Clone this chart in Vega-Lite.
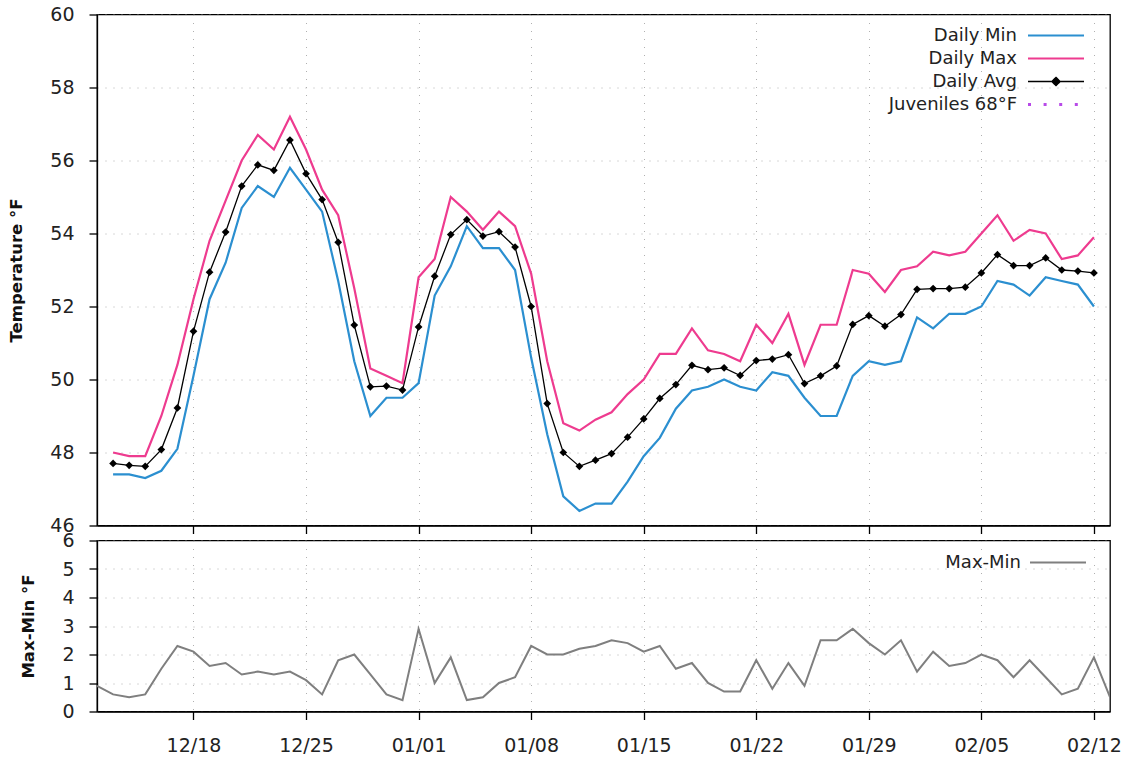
{
  "$schema": "https://vega.github.io/schema/vega-lite/v6.json",
  "padding": {"left": 8, "top": 4.5, "right": 0, "bottom": 0},
  "bounds": "flush",
  "spacing": 15,
  "config": {
    "font": "DejaVu Sans",
    "view": {"stroke": "#000", "strokeWidth": 1.3},
    "axis": {
      "domainColor": "#000", "domainWidth": 1.3,
      "tickColor": "#000", "tickSize": 8, "tickWidth": 1.3,
      "labelFont": "DejaVu Sans", "labelFontSize": 19, "labelColor": "#222",
      "titleFont": "DejaVu Sans", "titleFontSize": 16.5, "titleFontWeight": "bold", "titleColor": "#111",
      "gridColor": "#b0b0b0", "gridDash": [1, 7], "gridWidth": 1
    },
    "axisY": {"labelPadding": 15, "titlePadding": 25},
    "axisX": {"labelPadding": 17}
  },
  "resolve": {"scale": {"color": "independent"}, "legend": {"color": "independent"}},
  "datasets": {
    "thresholds": [{"series": "Juveniles 68°F", "value": 68}],
    "daily": [
      {"date": "2022-12-12", "range": 0.9},
      {"date": "2022-12-13", "Daily Min": 47.4, "Daily Max": 48.0, "Daily Avg": 47.70, "range": 0.6},
      {"date": "2022-12-14", "Daily Min": 47.4, "Daily Max": 47.9, "Daily Avg": 47.65, "range": 0.5},
      {"date": "2022-12-15", "Daily Min": 47.3, "Daily Max": 47.9, "Daily Avg": 47.62, "range": 0.6},
      {"date": "2022-12-16", "Daily Min": 47.5, "Daily Max": 49.0, "Daily Avg": 48.08, "range": 1.5},
      {"date": "2022-12-17", "Daily Min": 48.1, "Daily Max": 50.4, "Daily Avg": 49.22, "range": 2.3},
      {"date": "2022-12-18", "Daily Min": 50.1, "Daily Max": 52.2, "Daily Avg": 51.32, "range": 2.1},
      {"date": "2022-12-19", "Daily Min": 52.2, "Daily Max": 53.8, "Daily Avg": 52.94, "range": 1.6},
      {"date": "2022-12-20", "Daily Min": 53.2, "Daily Max": 54.9, "Daily Avg": 54.04, "range": 1.7},
      {"date": "2022-12-21", "Daily Min": 54.7, "Daily Max": 56.0, "Daily Avg": 55.30, "range": 1.3},
      {"date": "2022-12-22", "Daily Min": 55.3, "Daily Max": 56.7, "Daily Avg": 55.88, "range": 1.4},
      {"date": "2022-12-23", "Daily Min": 55.0, "Daily Max": 56.3, "Daily Avg": 55.73, "range": 1.3},
      {"date": "2022-12-24", "Daily Min": 55.8, "Daily Max": 57.2, "Daily Avg": 56.56, "range": 1.4},
      {"date": "2022-12-25", "Daily Min": 55.2, "Daily Max": 56.3, "Daily Avg": 55.64, "range": 1.1},
      {"date": "2022-12-26", "Daily Min": 54.6, "Daily Max": 55.2, "Daily Avg": 54.93, "range": 0.6},
      {"date": "2022-12-27", "Daily Min": 52.7, "Daily Max": 54.5, "Daily Avg": 53.76, "range": 1.8},
      {"date": "2022-12-28", "Daily Min": 50.5, "Daily Max": 52.5, "Daily Avg": 51.49, "range": 2.0},
      {"date": "2022-12-29", "Daily Min": 49.0, "Daily Max": 50.3, "Daily Avg": 49.80, "range": 1.3},
      {"date": "2022-12-30", "Daily Min": 49.5, "Daily Max": 50.1, "Daily Avg": 49.82, "range": 0.6},
      {"date": "2022-12-31", "Daily Min": 49.5, "Daily Max": 49.9, "Daily Avg": 49.71, "range": 0.4},
      {"date": "2023-01-01", "Daily Min": 49.9, "Daily Max": 52.8, "Daily Avg": 51.44, "range": 2.9},
      {"date": "2023-01-02", "Daily Min": 52.3, "Daily Max": 53.3, "Daily Avg": 52.83, "range": 1.0},
      {"date": "2023-01-03", "Daily Min": 53.1, "Daily Max": 55.0, "Daily Avg": 53.97, "range": 1.9},
      {"date": "2023-01-04", "Daily Min": 54.2, "Daily Max": 54.6, "Daily Avg": 54.38, "range": 0.4},
      {"date": "2023-01-05", "Daily Min": 53.6, "Daily Max": 54.1, "Daily Avg": 53.93, "range": 0.5},
      {"date": "2023-01-06", "Daily Min": 53.6, "Daily Max": 54.6, "Daily Avg": 54.05, "range": 1.0},
      {"date": "2023-01-07", "Daily Min": 53.0, "Daily Max": 54.2, "Daily Avg": 53.63, "range": 1.2},
      {"date": "2023-01-08", "Daily Min": 50.6, "Daily Max": 52.9, "Daily Avg": 52.00, "range": 2.3},
      {"date": "2023-01-09", "Daily Min": 48.5, "Daily Max": 50.5, "Daily Avg": 49.34, "range": 2.0},
      {"date": "2023-01-10", "Daily Min": 46.8, "Daily Max": 48.8, "Daily Avg": 48.00, "range": 2.0},
      {"date": "2023-01-11", "Daily Min": 46.4, "Daily Max": 48.6, "Daily Avg": 47.62, "range": 2.2},
      {"date": "2023-01-12", "Daily Min": 46.6, "Daily Max": 48.9, "Daily Avg": 47.79, "range": 2.3},
      {"date": "2023-01-13", "Daily Min": 46.6, "Daily Max": 49.1, "Daily Avg": 47.97, "range": 2.5},
      {"date": "2023-01-14", "Daily Min": 47.2, "Daily Max": 49.6, "Daily Avg": 48.42, "range": 2.4},
      {"date": "2023-01-15", "Daily Min": 47.9, "Daily Max": 50.0, "Daily Avg": 48.92, "range": 2.1},
      {"date": "2023-01-16", "Daily Min": 48.4, "Daily Max": 50.7, "Daily Avg": 49.48, "range": 2.3},
      {"date": "2023-01-17", "Daily Min": 49.2, "Daily Max": 50.7, "Daily Avg": 49.86, "range": 1.5},
      {"date": "2023-01-18", "Daily Min": 49.7, "Daily Max": 51.4, "Daily Avg": 50.39, "range": 1.7},
      {"date": "2023-01-19", "Daily Min": 49.8, "Daily Max": 50.8, "Daily Avg": 50.27, "range": 1.0},
      {"date": "2023-01-20", "Daily Min": 50.0, "Daily Max": 50.7, "Daily Avg": 50.32, "range": 0.7},
      {"date": "2023-01-21", "Daily Min": 49.8, "Daily Max": 50.5, "Daily Avg": 50.11, "range": 0.7},
      {"date": "2023-01-22", "Daily Min": 49.7, "Daily Max": 51.5, "Daily Avg": 50.52, "range": 1.8},
      {"date": "2023-01-23", "Daily Min": 50.2, "Daily Max": 51.0, "Daily Avg": 50.56, "range": 0.8},
      {"date": "2023-01-24", "Daily Min": 50.1, "Daily Max": 51.8, "Daily Avg": 50.68, "range": 1.7},
      {"date": "2023-01-25", "Daily Min": 49.5, "Daily Max": 50.4, "Daily Avg": 49.89, "range": 0.9},
      {"date": "2023-01-26", "Daily Min": 49.0, "Daily Max": 51.5, "Daily Avg": 50.10, "range": 2.5},
      {"date": "2023-01-27", "Daily Min": 49.0, "Daily Max": 51.5, "Daily Avg": 50.37, "range": 2.5},
      {"date": "2023-01-28", "Daily Min": 50.1, "Daily Max": 53.0, "Daily Avg": 51.51, "range": 2.9},
      {"date": "2023-01-29", "Daily Min": 50.5, "Daily Max": 52.9, "Daily Avg": 51.75, "range": 2.4},
      {"date": "2023-01-30", "Daily Min": 50.4, "Daily Max": 52.4, "Daily Avg": 51.46, "range": 2.0},
      {"date": "2023-01-31", "Daily Min": 50.5, "Daily Max": 53.0, "Daily Avg": 51.78, "range": 2.5},
      {"date": "2023-02-01", "Daily Min": 51.7, "Daily Max": 53.1, "Daily Avg": 52.47, "range": 1.4},
      {"date": "2023-02-02", "Daily Min": 51.4, "Daily Max": 53.5, "Daily Avg": 52.49, "range": 2.1},
      {"date": "2023-02-03", "Daily Min": 51.8, "Daily Max": 53.4, "Daily Avg": 52.49, "range": 1.6},
      {"date": "2023-02-04", "Daily Min": 51.8, "Daily Max": 53.5, "Daily Avg": 52.53, "range": 1.7},
      {"date": "2023-02-05", "Daily Min": 52.0, "Daily Max": 54.0, "Daily Avg": 52.92, "range": 2.0},
      {"date": "2023-02-06", "Daily Min": 52.7, "Daily Max": 54.5, "Daily Avg": 53.42, "range": 1.8},
      {"date": "2023-02-07", "Daily Min": 52.6, "Daily Max": 53.8, "Daily Avg": 53.12, "range": 1.2},
      {"date": "2023-02-08", "Daily Min": 52.3, "Daily Max": 54.1, "Daily Avg": 53.12, "range": 1.8},
      {"date": "2023-02-09", "Daily Min": 52.8, "Daily Max": 54.0, "Daily Avg": 53.33, "range": 1.2},
      {"date": "2023-02-10", "Daily Min": 52.7, "Daily Max": 53.3, "Daily Avg": 53.00, "range": 0.6},
      {"date": "2023-02-11", "Daily Min": 52.6, "Daily Max": 53.4, "Daily Avg": 52.97, "range": 0.8},
      {"date": "2023-02-12", "Daily Min": 52.0, "Daily Max": 53.9, "Daily Avg": 52.92, "range": 1.9},
      {"date": "2023-02-13", "range": 0.5}
    ]
  },
  "vconcat": [
    {
      "width": 1013,
      "height": 511,
      "layer": [
        {
          "data": {"name": "daily"},
          "transform": [
            {"fold": ["Daily Min", "Daily Max", "Daily Avg"], "as": ["series", "value"]},
            {"filter": "isValid(datum.value)"}
          ],
          "mark": {"type": "line", "clip": true},
          "encoding": {
            "x": {
              "field": "date", "type": "temporal",
              "scale": {"type": "utc", "domain": [{"year": 2022, "month": 12, "date": 12, "utc": true}, {"year": 2023, "month": 2, "date": 13, "utc": true}]},
              "axis": {
                "title": null, "labels": false, "grid": true,
                "values": [
                  {"year": 2022, "month": 12, "date": 18, "utc": true},
                  {"year": 2022, "month": 12, "date": 25, "utc": true},
                  {"year": 2023, "month": 1, "date": 1, "utc": true},
                  {"year": 2023, "month": 1, "date": 8, "utc": true},
                  {"year": 2023, "month": 1, "date": 15, "utc": true},
                  {"year": 2023, "month": 1, "date": 22, "utc": true},
                  {"year": 2023, "month": 1, "date": 29, "utc": true},
                  {"year": 2023, "month": 2, "date": 5, "utc": true},
                  {"year": 2023, "month": 2, "date": 12, "utc": true}
                ]
              }
            },
            "y": {
              "field": "value", "type": "quantitative", "title": "Temperature °F",
              "scale": {"domain": [46, 60], "nice": false, "zero": false},
              "axis": {"values": [46, 48, 50, 52, 54, 56, 58, 60], "grid": true}
            },
            "color": {
              "field": "series", "type": "nominal",
              "scale": {
                "domain": ["Daily Min", "Daily Max", "Daily Avg", "Juveniles 68°F"],
                "range": ["#2b8fd0", "#ee3b8f", "#000000", "#b84ae8"]
              },
              "legend": {
                "orient": "none", "legendX": 950, "legendY": 12, "title": null, "padding": 0,
                "labelFont": "DejaVu Sans", "labelFontSize": 18, "labelColor": "#222",
                "labelAlign": "right", "labelOffset": -48,
                "symbolSize": 400, "rowPadding": 5, "symbolStrokeWidth": 2,
                "symbolType": "M-2.8,0L2.8,0",
                "encode": {
                  "symbols": {
                    "update": {
                      "shape": {"signal": "datum.value === 'Daily Avg' ? 'M-2.8,0L2.8,0M0,-0.42L0.42,0L0,0.42L-0.42,0Z' : 'M-2.8,0L2.8,0'"},
                      "fill": {"signal": "datum.value === 'Daily Avg' ? '#000' : 'transparent'"},
                      "strokeDash": {"signal": "datum.value === 'Juveniles 68°F' ? [3, 12.6] : [1, 0]"},
                      "strokeWidth": {"signal": "datum.value === 'Daily Avg' ? 1.3 : (datum.value === 'Juveniles 68°F' ? 3 : 2.2)"}
                    }
                  }
                }
              }
            },
            "strokeWidth": {"condition": {"test": "datum.series === 'Daily Avg'", "value": 1.3}, "value": 2.2}
          }
        },
        {
          "data": {"name": "daily"},
          "transform": [
            {"fold": ["Daily Min", "Daily Max", "Daily Avg"], "as": ["series", "value"]},
            {"filter": "datum.series === 'Daily Avg' && isValid(datum.value)"}
          ],
          "mark": {"type": "point", "shape": "diamond", "filled": true, "color": "#000", "size": 60, "opacity": 1},
          "encoding": {
            "x": {"field": "date", "type": "temporal"},
            "y": {"field": "value", "type": "quantitative", "title": "Temperature °F"}
          }
        },
        {
          "data": {"name": "thresholds"},
          "mark": {"type": "rule", "clip": true, "strokeDash": [3, 12.6], "strokeWidth": 3},
          "encoding": {
            "y": {"field": "value", "type": "quantitative", "title": "Temperature °F"},
            "color": {"field": "series", "type": "nominal"}
          }
        }
      ]
    },
    {
      "width": 1013,
      "height": 171,
      "data": {"name": "daily"},
      "mark": {"type": "line", "clip": true, "strokeWidth": 2},
      "encoding": {
        "x": {
          "field": "date", "type": "temporal",
          "scale": {"type": "utc", "domain": [{"year": 2022, "month": 12, "date": 12, "utc": true}, {"year": 2023, "month": 2, "date": 13, "utc": true}]},
          "axis": {
            "title": null, "format": "%m/%d", "grid": true,
            "values": [
              {"year": 2022, "month": 12, "date": 18, "utc": true},
              {"year": 2022, "month": 12, "date": 25, "utc": true},
              {"year": 2023, "month": 1, "date": 1, "utc": true},
              {"year": 2023, "month": 1, "date": 8, "utc": true},
              {"year": 2023, "month": 1, "date": 15, "utc": true},
              {"year": 2023, "month": 1, "date": 22, "utc": true},
              {"year": 2023, "month": 1, "date": 29, "utc": true},
              {"year": 2023, "month": 2, "date": 5, "utc": true},
              {"year": 2023, "month": 2, "date": 12, "utc": true}
            ]
          }
        },
        "y": {
          "field": "range", "type": "quantitative", "title": "Max-Min °F",
          "scale": {"domain": [0, 6], "nice": false},
          "axis": {"values": [0, 1, 2, 3, 4, 5, 6], "grid": true}
        },
        "color": {
          "datum": "Max-Min", "type": "nominal",
          "scale": {"domain": ["Max-Min"], "range": ["#7f7f7f"]},
          "legend": {
            "orient": "none", "legendX": 950, "legendY": 11, "title": null, "padding": 0,
            "labelFont": "DejaVu Sans", "labelFontSize": 18, "labelColor": "#222",
            "labelAlign": "right", "labelOffset": -48,
            "symbolSize": 400, "symbolStrokeWidth": 2,
            "symbolType": "M-2.8,0L2.8,0",
            "encode": {"symbols": {"update": {"strokeWidth": {"value": 2}}}}
          }
        }
      }
    }
  ]
}
